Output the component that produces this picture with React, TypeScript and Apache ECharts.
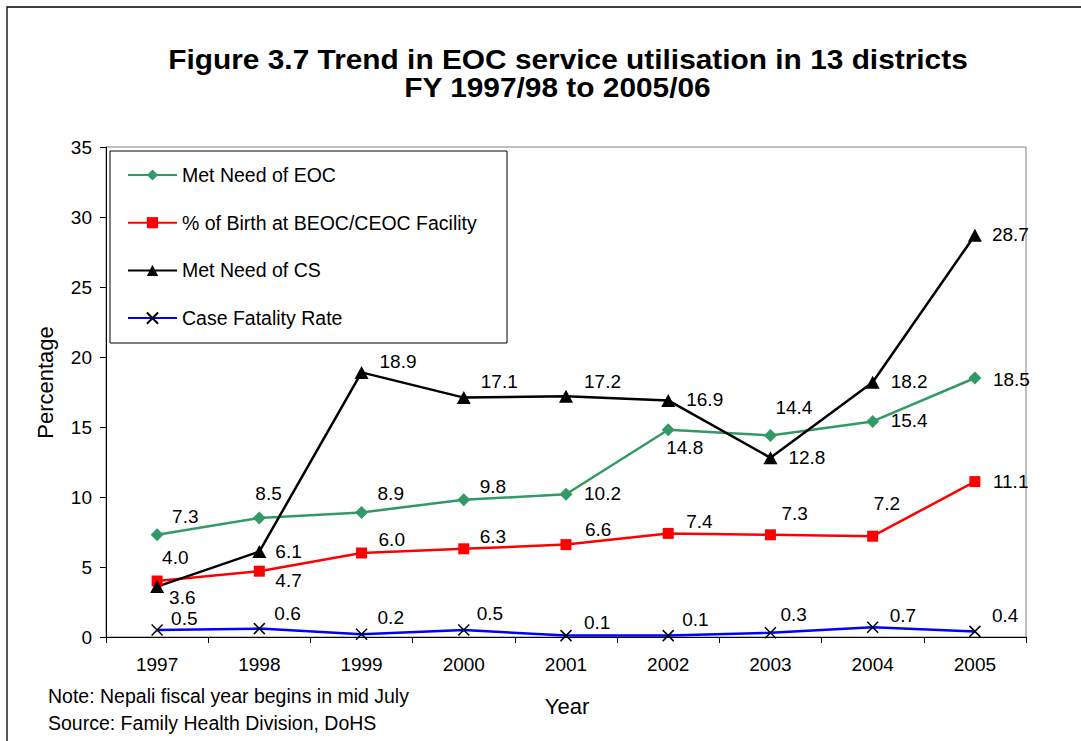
import React, { useEffect, useRef } from "react";
import * as echarts from "echarts";

// Fiscal years (FY start year)
const years = ["1997", "1998", "1999", "2000", "2001", "2002", "2003", "2004", "2005"];

// Percentages per series
const metNeedEOC = [7.3, 8.5, 8.9, 9.8, 10.2, 14.8, 14.4, 15.4, 18.5];
const birthAtFacility = [4.0, 4.7, 6.0, 6.3, 6.6, 7.4, 7.3, 7.2, 11.1];
const metNeedCS = [3.6, 6.1, 18.9, 17.1, 17.2, 16.9, 12.8, 18.2, 28.7];
const caseFatalityRate = [0.5, 0.6, 0.2, 0.5, 0.1, 0.1, 0.3, 0.7, 0.4];

const yTicks = [0, 5, 10, 15, 20, 25, 30, 35];

// Value label placement: [left edge offset, vertical offset] from each point
const eocLabelPos = [[15, -18], [-4, -25], [16, -19], [16, -13], [18, -1], [-2, 18], [5, -28], [18, -1], [18, 1]];
const birthLabelPos = [[5, -24], [16, 9], [17, -14], [16, -12], [19, -15], [18, -12], [11, -21], [1, -33], [18, 0]];
const csLabelPos = [[12, 11], [16, 0], [18, -11], [17, -16], [18, -15], [18, -1], [18, 0], [18, -1], [17, -1]];
const cfrLabelPos = [[14, -12], [15, -15], [16, -17], [13, -17], [18, -13], [14, -16], [10, -18], [17, -12], [17, -16]];

const FONT = 'Arial, "Liberation Sans", Helvetica, sans-serif';

const withLabels = (values: number[], pos: number[][]) =>
  values.map((v, i) => ({ value: v, label: { offset: pos[i] } }));

const valueLabel = {
  show: true,
  position: "inside",
  align: "left",
  verticalAlign: "middle",
  color: "#000",
  fontSize: 19,
  fontFamily: FONT,
  formatter: (p: any) => Number(p.value).toFixed(1),
};

export default function App() {
  const ref = useRef<HTMLDivElement>(null);

  useEffect(() => {
    if (!ref.current) return;
    const chart = echarts.init(ref.current, null, { renderer: "svg" });

    const option: any = {
      animation: false,
      backgroundColor: "#fff",
      textStyle: { fontFamily: FONT },
      grid: {
        left: 106,
        top: 147,
        width: 920,
        height: 490,
        show: true,
        borderColor: "#808080",
        borderWidth: 1,
        backgroundColor: "transparent",
        containLabel: false,
        outerBoundsMode: "none",
      },
      legend: {
        orient: "vertical",
        left: 127,
        top: 165,
        padding: 0,
        itemWidth: 49,
        itemHeight: 14,
        itemGap: 27.7,
        textStyle: { fontSize: 19.5, color: "#000", fontFamily: FONT, lineHeight: 20 },
        data: [
          "Met Need of EOC",
          "% of Birth at BEOC/CEOC Facility",
          "Met Need of CS",
          "Case Fatality Rate",
        ],
        z: 6,
      },
      xAxis: {
        type: "category",
        data: years,
        boundaryGap: true,
        axisLine: { lineStyle: { color: "#000", width: 1 } },
        axisTick: { show: true, length: 6, lineStyle: { color: "#000" } },
        axisLabel: { color: "#000", fontSize: 19, fontFamily: FONT, margin: 18 },
        splitLine: { show: false },
      },
      yAxis: {
        type: "value",
        min: yTicks[0],
        max: yTicks[yTicks.length - 1],
        interval: 5,
        axisLine: { show: true, lineStyle: { color: "#000", width: 1 } },
        axisTick: { show: true, length: 6, lineStyle: { color: "#000" } },
        axisLabel: { color: "#000", fontSize: 19, fontFamily: FONT, margin: 14 },
        splitLine: { show: false },
      },
      series: [
        {
          name: "Met Need of EOC",
          type: "line",
          data: withLabels(metNeedEOC, eocLabelPos),
          symbol: "diamond",
          symbolSize: 13,
          lineStyle: { color: "#339966", width: 2.5 },
          itemStyle: { color: "#339966" },
          label: valueLabel,
          z: 3,
        },
        {
          name: "% of Birth at BEOC/CEOC Facility",
          type: "line",
          data: withLabels(birthAtFacility, birthLabelPos),
          symbol: "rect",
          symbolSize: 11,
          lineStyle: { color: "#ff0000", width: 2.5 },
          itemStyle: { color: "#ff0000" },
          label: valueLabel,
          z: 3,
        },
        {
          name: "Met Need of CS",
          type: "line",
          data: withLabels(metNeedCS, csLabelPos),
          symbol: "triangle",
          symbolSize: [14, 13],
          lineStyle: { color: "#000", width: 2.5 },
          itemStyle: { color: "#000" },
          label: valueLabel,
          z: 3,
        },
        {
          name: "Case Fatality Rate",
          type: "line",
          data: withLabels(caseFatalityRate, cfrLabelPos),
          symbol: "path://M0,0L10,10M10,0L0,10",
          symbolSize: 11,
          lineStyle: { color: "#0000ff", width: 2.5 },
          itemStyle: { color: "#000", borderColor: "#000", borderWidth: 1.5 },
          label: valueLabel,
          z: 3,
        },
      ],
      graphic: [
        // outer frame
        {
          type: "rect",
          shape: { x: 7, y: 7, width: 1200, height: 1000 },
          style: { fill: "none", stroke: "#000", lineWidth: 1.3 },
          silent: true,
          z: 1,
        },
        // legend box
        {
          type: "rect",
          shape: { x: 110, y: 151, width: 397, height: 192 },
          style: { fill: "#fff", stroke: "#000", lineWidth: 1 },
          silent: true,
          z: 5,
        },
        {
          type: "text",
          x: 568,
          y: 59.5,
          scaleX: 1.106,
          style: {
            text: "Figure 3.7 Trend in EOC service utilisation in 13 districts",
            fontSize: 27,
            fontWeight: "bold",
            fontFamily: FONT,
            fill: "#000",
            align: "center",
            verticalAlign: "middle",
          },
          z: 5,
        },
        {
          type: "text",
          x: 557.5,
          y: 87.5,
          scaleX: 1.106,
          style: {
            text: "FY 1997/98 to 2005/06",
            fontSize: 27,
            fontWeight: "bold",
            fontFamily: FONT,
            fill: "#000",
            align: "center",
            verticalAlign: "middle",
          },
          z: 5,
        },
        {
          type: "text",
          x: 45,
          y: 382.5,
          rotation: Math.PI / 2,
          style: {
            text: "Percentage",
            fontSize: 22,
            fontFamily: FONT,
            fill: "#000",
            align: "center",
            verticalAlign: "middle",
          },
          z: 5,
        },
        {
          type: "text",
          x: 567,
          y: 706,
          style: {
            text: "Year",
            fontSize: 22,
            fontFamily: FONT,
            fill: "#000",
            align: "center",
            verticalAlign: "middle",
          },
          z: 5,
        },
        {
          type: "text",
          x: 48,
          y: 696,
          style: {
            text: "Note: Nepali fiscal year begins in mid July",
            fontSize: 19.5,
            fontFamily: FONT,
            fill: "#000",
            align: "left",
            verticalAlign: "middle",
          },
          z: 5,
        },
        {
          type: "text",
          x: 48,
          y: 723,
          style: {
            text: "Source: Family Health Division, DoHS",
            fontSize: 19.5,
            fontFamily: FONT,
            fill: "#000",
            align: "left",
            verticalAlign: "middle",
          },
          z: 5,
        },
      ],
    };

    chart.setOption(option);
    return () => chart.dispose();
  }, []);

  return (
    <div
      ref={ref}
      style={{ position: "absolute", left: 0, top: 0, width: 1081, height: 741 }}
    />
  );
}
